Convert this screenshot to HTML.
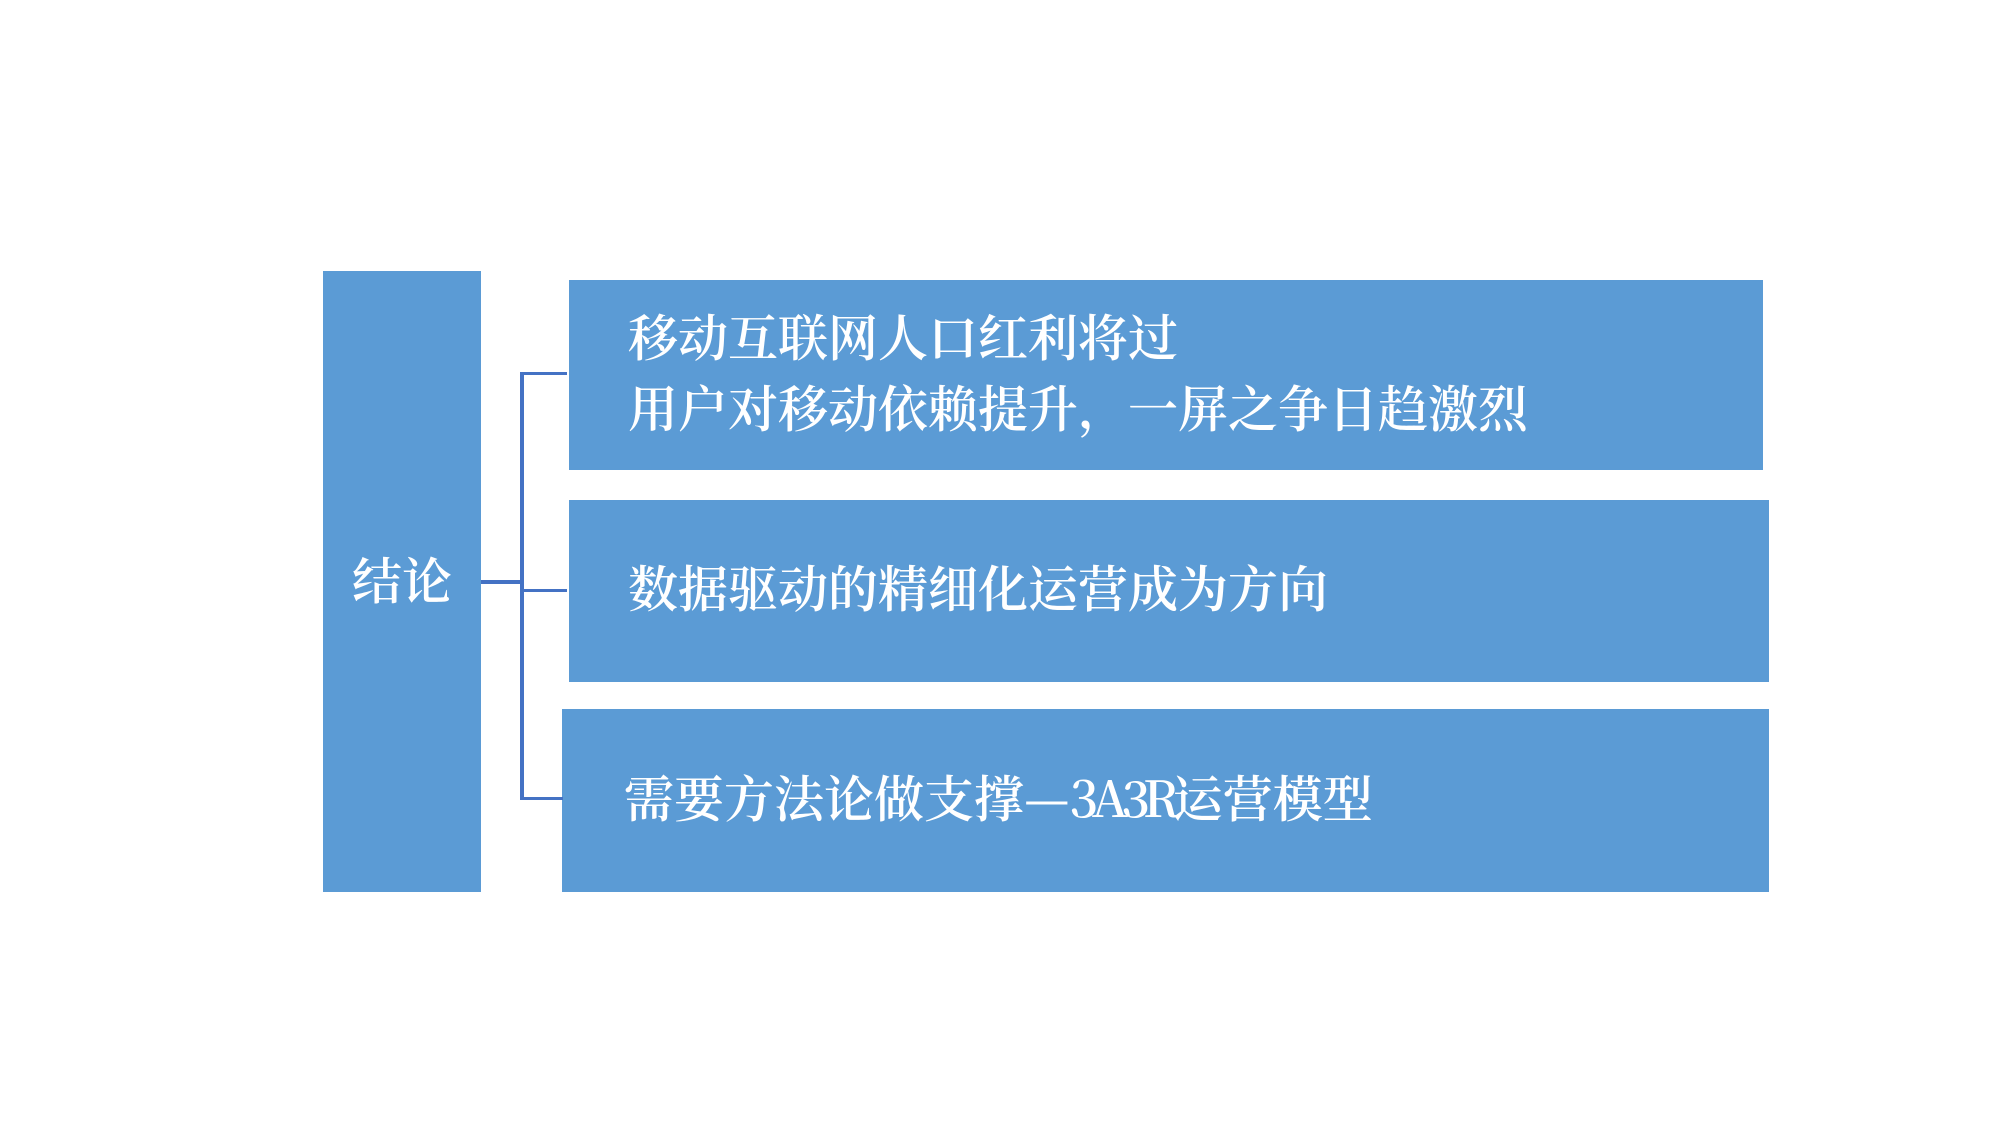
<!DOCTYPE html>
<html><head><meta charset="utf-8"><style>
html,body{margin:0;padding:0;background:#fff;}
body{width:2000px;height:1125px;position:relative;overflow:hidden;font-family:"Noto Serif CJK SC","Liberation Serif",serif;color:#fff;}
.b{position:absolute;background:#5B9BD5;}
.t{position:absolute;font-size:50px;line-height:70px;white-space:nowrap;font-weight:600;}
.l{position:absolute;background:#4472C4;}
</style></head><body>
<div class="b" style="left:323px;top:271px;width:158px;height:621px;"></div>
<div class="t" style="left:352px;top:543px;">结论</div>
<div class="b" style="left:569px;top:280px;width:1194px;height:190px;"></div>
<div class="b" style="left:569px;top:500px;width:1200px;height:182px;"></div>
<div class="b" style="left:562px;top:709px;width:1207px;height:183px;"></div>
<div class="t" style="left:628px;top:300px;">移动互联网人口红利将过</div>
<div class="t" style="left:628px;top:371px;">用户对移动依赖提升，一屏之争日趋激烈</div>
<div class="t" style="left:628px;top:551px;">数据驱动的精细化运营成为方向</div>
<div class="t" style="left:624px;top:761px;">需要方法论做支撑—<span style="letter-spacing:-7px">3A3R</span>运营模型</div>
<div class="l" style="left:481px;top:580px;width:43px;height:4px;"></div>
<div class="l" style="left:520px;top:372px;width:4px;height:428px;"></div>
<div class="l" style="left:520px;top:372px;width:47px;height:3px;"></div>
<div class="l" style="left:520px;top:589px;width:47px;height:3px;"></div>
<div class="l" style="left:520px;top:797px;width:43px;height:3px;"></div>
</body></html>
